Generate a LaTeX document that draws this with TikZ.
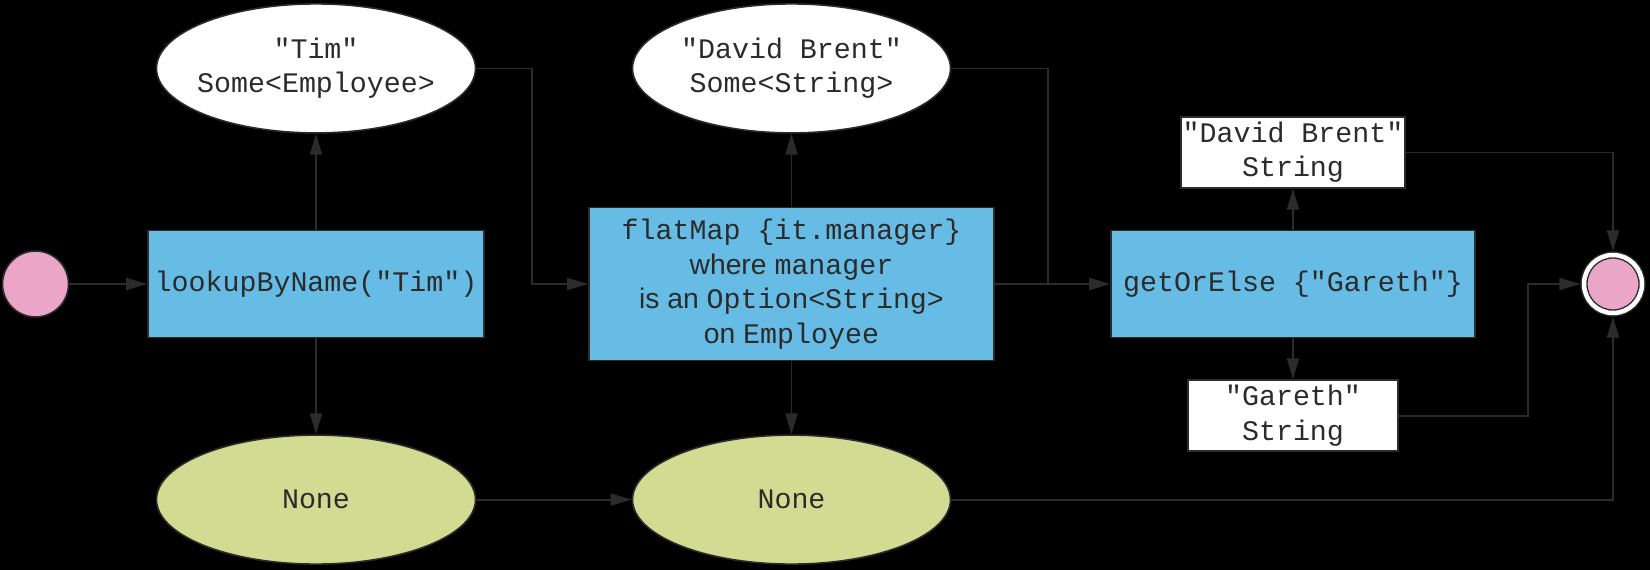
\documentclass[tikz,border=0pt]{standalone}
\usepackage{fontspec}
\setmainfont{Liberation Sans}
\setsansfont{Liberation Sans}
\setmonofont{Liberation Mono}
\usepackage{xcolor}
\usetikzlibrary{positioning,arrows.meta,shapes.geometric}

\definecolor{ink}{HTML}{2B2B2B}
\definecolor{opblue}{HTML}{66BCE4}
\definecolor{nonegreen}{HTML}{D1DB91}
\definecolor{dotpink}{HTML}{EAA5C9}

\begin{document}
\begin{tikzpicture}[
  x=1pt, y=-1pt,
  font=\ttfamily\fontsize{28.3}{34.5}\selectfont,
  text=ink,
  op/.style={
    rectangle, draw=ink, line width=1.6pt, fill=opblue,
    inner sep=0pt, align=center, minimum height=107pt
  },
  some/.style={
    ellipse, draw=ink, line width=1.6pt, fill=white,
    inner xsep=-12pt, inner ysep=0pt, align=center,
    minimum width=319pt, minimum height=129pt
  },
  nada/.style={some, fill=nonegreen},
  res/.style={
    rectangle, draw=ink, line width=1.6pt, fill=white,
    inner sep=0pt, align=center, minimum height=71pt
  },
  term/.style={circle, draw=ink, line width=1.6pt, fill=dotpink, inner sep=0pt, minimum size=66pt},
  arr/.style={-{Triangle[length=21pt,width=12pt]}, line width=1.8pt, draw=ink},
  wire/.style={line width=1.8pt, draw=ink}
]

\path[use as bounding box, fill=black] (0,0) rectangle (1650,570);

% main row
\node[term] (start) at (35.5,284) {};
\node[op, minimum width=336pt] (lookup) at (316,284) {lookupByName("Tim")};
\node[op, minimum width=405pt, minimum height=153pt] (flatmap) at (791.5,284)
  {flatMap \{it.manager\}\\\textsf{where }manager\\\textsf{is an }Option\textsf{<}String>\\\textsf{on }Employee};
\node[op, minimum width=364pt] (orelse) at (1293,284) {getOrElse \{"Gareth"\}};
\node[term, minimum size=58pt, line width=1.4pt, double=white, double distance=4.5pt, outer sep=3.6pt] (finish) at (1613,284) {};

% results
\node[some, above=96pt of lookup] (tim) {"Tim"\\Some<Employee>};
\node[nada, below=96pt of lookup] (none1) {None};
\node[some, minimum width=318pt, above=73pt of flatmap] (brent) {"David Brent"\\Some<String>};
\node[nada, minimum width=318pt, below=73pt of flatmap] (none2) {None};
\node[res, minimum width=224pt, above=41pt of orelse] (dbstr) {"David Brent"\\String};
\node[res, minimum width=210pt, below=41pt of orelse] (gareth) {"Gareth"\\String};

\coordinate (tj) at (532,284);
\coordinate (bj) at (1048,284);
\coordinate (gj) at (1528,284);

\draw[arr] (start) -- (lookup);
\draw[arr] (lookup) -- (tim);
\draw[arr] (lookup) -- (none1);
\draw[arr] (tim.east) -| (tj) -- (flatmap);
\draw[arr] (none1) -- (none2);
\draw[arr] (flatmap) -- (brent);
\draw[arr] (flatmap) -- (none2);
\draw[arr] (flatmap) -- (orelse);
\draw[wire] (brent.east) -| (bj);
\draw[arr] (orelse) -- (dbstr);
\draw[arr] (orelse) -- (gareth);
\draw[arr] (dbstr.east) -| (finish.north);
\draw[arr] (gareth.east) -| (gj) -- (finish.west);
\draw[arr] (none2.east) -| (finish.south);

\end{tikzpicture}
\end{document}
